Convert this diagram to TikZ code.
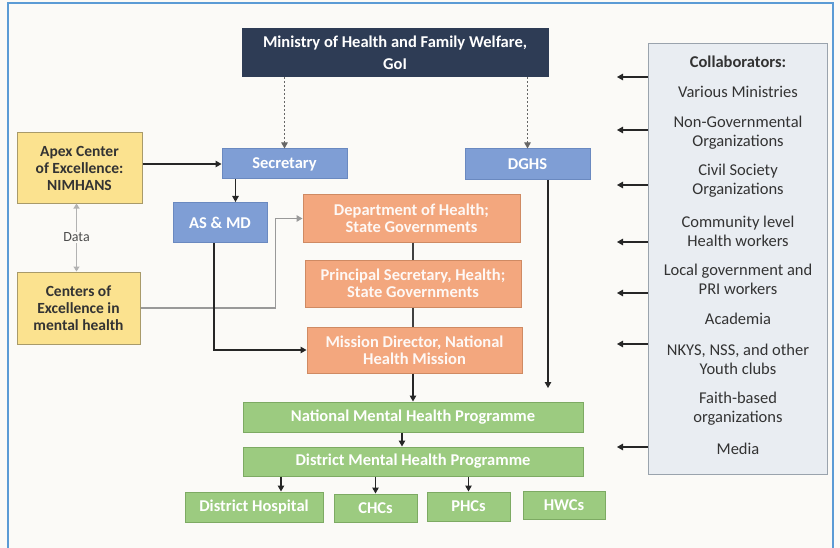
\documentclass[tikz,border=0pt]{standalone}
\usepackage{fontspec}
\setmainfont{Carlito}
\usetikzlibrary{arrows.meta}
\definecolor{paper}{HTML}{FBFAF7}
\definecolor{frameblue}{HTML}{5B9BD5}
\definecolor{navy}{HTML}{2E3C55}
\definecolor{secblue}{HTML}{7F9ED5}
\definecolor{secline}{HTML}{6A89C0}
\definecolor{salmon}{HTML}{F3A77E}
\definecolor{salmonline}{HTML}{CF8A63}
\definecolor{leaf}{HTML}{9CCB80}
\definecolor{leafline}{HTML}{7DAA63}
\definecolor{butter}{HTML}{FBE28F}
\definecolor{butterline}{HTML}{A89A6A}
\definecolor{mist}{HTML}{E9EDF2}
\definecolor{mistline}{HTML}{9AA3AD}

\begin{document}
\begin{tikzpicture}[x=1pt,y=-1pt,>={Triangle[length=6pt,width=6.5pt]},
	box/.style={draw,line width=1pt,inner sep=1pt,align=center,font=\fontsize{16.5}{17}\selectfont\bfseries},
	navybox/.style={box,fill=navy,draw=navy,text=white,font=\fontsize{16.5}{22}\selectfont\bfseries},
	bluebox/.style={box,fill=secblue,draw=secline,text=white},
	orangebox/.style={box,fill=salmon,draw=salmonline,text=white!92!salmon},
	greenbox/.style={box,fill=leaf,draw=leafline,text=white},
	yellowbox/.style={box,fill=butter,draw=butterline,text=black!80,font=\fontsize{15.5}{17}\selectfont\bfseries},
	collabtxt/.style={align=center,text=black!80,font=\fontsize{16.5}{19}\selectfont},
	arr/.style={->,line width=1.1pt,black!85},
	plain/.style={line width=1.1pt,black!75},
	dotarr/.style={->,line width=0.9pt,black!60,dash pattern=on 2pt off 2pt}]

	\useasboundingbox (0,0) rectangle (840,548);
	\fill[paper] (0,0) rectangle (840,548);
	\draw[frameblue,line width=2.5pt] (8,548) -- (8,3) -- (833,3) -- (833,548);

	% top of the chart
	\node[navybox,minimum width=306pt,minimum height=48pt] (ministry) at (395,53) {Ministry of Health and Family Welfare,\\GoI};
	\node[bluebox,minimum width=125pt,minimum height=30pt] (secr) at (284.5,164) {Secretary};
	\node[bluebox,minimum width=125pt,minimum height=31pt] (dghs) at (527.5,164.5) {DGHS};
	\node[bluebox,minimum width=94pt,minimum height=40pt,anchor=north] (asmd) at (220,202) {AS \& MD};

	% centres of excellence
	\node[yellowbox,minimum width=125pt,minimum height=70pt] (apex) at (79.5,168) {Apex Center\\of Excellence:\\NIMHANS};
	\node[yellowbox,minimum width=123pt,minimum height=72pt] (coe) at (78.5,308) {Centers of\\Excellence in\\mental health};

	% state level
	\node[orangebox,minimum width=217pt,minimum height=47pt] (dept) at (411.5,218.5) {Department of Health;\\State Governments};
	\node[orangebox,minimum width=216pt,minimum height=47pt] (prin) at (413,283.5) {Principal Secretary, Health;\\State Governments};
	\node[orangebox,minimum width=215pt,minimum height=46pt] (mission) at (414.5,350) {Mission Director, National\\Health Mission};

	% programmes
	\node[greenbox,minimum width=340pt,minimum height=30pt] (nmhp) at (413,417) {National Mental Health Programme};
	\node[greenbox,minimum width=340pt,minimum height=29pt] (dmhp) at (413,461.5) {District Mental Health Programme};
	\node[greenbox,minimum width=138pt,minimum height=30pt] (dhosp) at (254,507) {District Hospital};
	\node[greenbox,minimum width=83pt,minimum height=28pt] (chcs) at (375.5,508) {CHCs};
	\node[greenbox,minimum width=83pt,minimum height=29pt] (phcs) at (468.5,506.5) {PHCs};
	\node[greenbox,minimum width=82pt,minimum height=28pt] (hwcs) at (564,505) {HWCs};

	% collaborators
	\node[draw=mistline,fill=mist,line width=1pt,minimum width=179pt,minimum height=430pt] (collab) at (737.5,259) {};
	\node[collabtxt,font=\fontsize{16.5}{19}\selectfont\bfseries] (c0) at (738,62) {Collaborators:};
	\node[collabtxt] (c1) at (738,92) {Various Ministries};
	\node[collabtxt] (c2) at (738,132.5) {Non-Governmental\\Organizations};
	\node[collabtxt] (c3) at (738,181) {Civil Society\\Organizations};
	\node[collabtxt] (c4) at (738,231) {Community level\\Health workers};
	\node[collabtxt] (c5) at (738,279.5) {Local government and\\PRI workers};
	\node[collabtxt] (c6) at (738,319) {Academia};
	\node[collabtxt] (c7) at (738,359.5) {NKYS, NSS, and other\\Youth clubs};
	\node[collabtxt] (c8) at (738,408.5) {Faith-based\\organizations};
	\node[collabtxt] (c9) at (738,449) {Media};

	\foreach \yy [count=\i] in {77,130,185,242,293,344,447} {
		\coordinate (in\i) at (617,\yy);
		\draw[arr] (collab.west |- in\i) -- (in\i);
	}

	% links
	\draw[dotarr] (secr.north |- ministry.south) -- (secr.north);
	\draw[dotarr] (dghs.north |- ministry.south) -- (dghs.north);
	\draw[arr] (apex.east |- secr.west) -- (secr.west);
	\draw[arr] ([xshift=-49pt]secr.south) -- ([xshift=-49pt]secr.south |- asmd.north);
	\draw[{Triangle[length=5pt,width=6pt]}-{Triangle[length=5pt,width=6pt]},line width=1.4pt,black!30] ([xshift=-3pt]apex.south) -- ([xshift=-3pt]apex.south |- coe.north)
		node[midway,fill=paper,text=black!70,font=\fontsize{14}{16}\selectfont,inner sep=1pt] (data) {Data};
	\draw[->,line width=1.3pt,black!40] (coe.east) -- ++(135,0) |- (dept.west);
	\draw[arr] ([xshift=-6pt]asmd.south) |- (mission.west);
	\draw[plain] (prin.north |- dept.south) -- (prin.north);
	\draw[plain] (prin.south) -- (prin.south |- mission.north);
	\draw[arr] (nmhp.north |- mission.south) -- (nmhp.north);
	\coordinate (dgend) at (548,388);
	\draw[arr] (dghs.south -| dgend) -- (dgend);
	\draw[arr] ([xshift=-11pt]nmhp.south) -- ([xshift=-11pt]dmhp.north);
	\draw[arr] ([xshift=27pt]dhosp.north |- dmhp.south) -- ([xshift=27pt]dhosp.north);
	\draw[arr] (chcs.north |- dmhp.south) -- (chcs.north);
	\draw[arr] (phcs.north |- dmhp.south) -- (phcs.north);
\end{tikzpicture}
\end{document}
